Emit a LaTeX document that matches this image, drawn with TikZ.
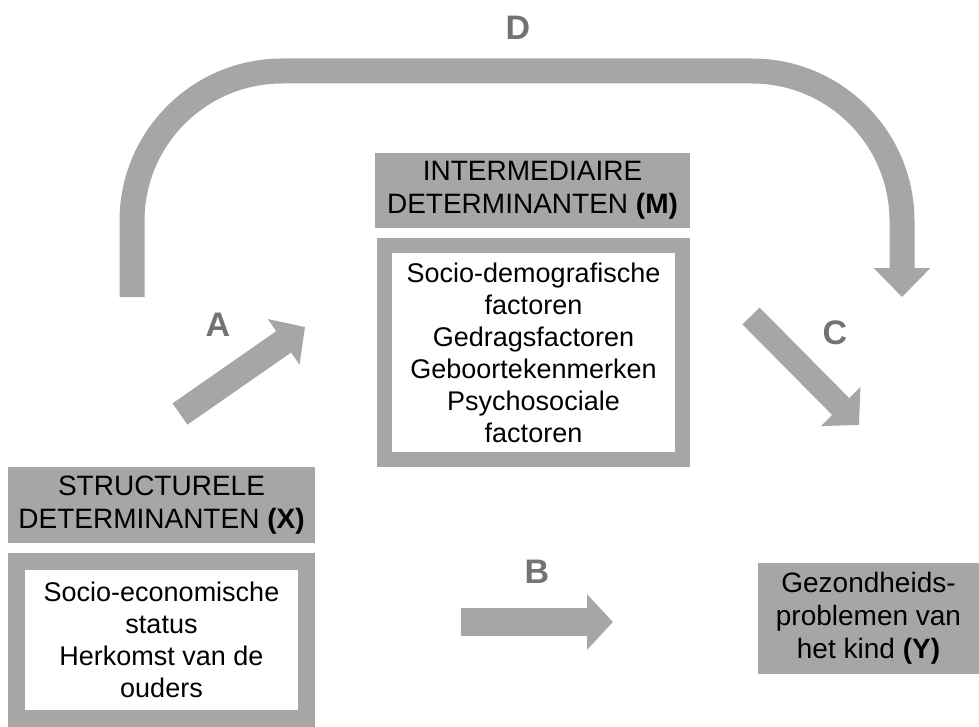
\documentclass[tikz,border=0pt]{standalone}
\usepackage{fontspec}
\setmainfont{Liberation Sans}
\usetikzlibrary{arrows.meta}
\definecolor{boxgray}{HTML}{A6A6A6}
\definecolor{lblgray}{HTML}{737373}

\begin{document}
\begin{tikzpicture}[x=1pt, y=-1pt,
  every node/.style={font=\fontsize{27}{32}\selectfont, align=center, inner sep=0pt},
  hdr/.style={fill=boxgray, font=\fontsize{28}{33}\selectfont},
  body/.style={draw=boxgray, fill=white},
  pathlbl/.style={text=lblgray, font=\fontsize{34}{34}\selectfont\bfseries},
  blockarrow/.style={draw=boxgray, line width=26pt, -{Triangle[width=54pt, length=26pt]}}]
  \useasboundingbox (0,0) rectangle (979,727);

  % Path D (over the top)
  \coordinate (dStart) at (132,297);
  \coordinate (dUp) at (132,71);
  \coordinate (dOver) at (902,71);
  \coordinate (dEnd) at (902,297);
  \draw[blockarrow, line width=25pt, rounded corners=150pt,
        -{Triangle[width=55pt, length=29pt]}] (dStart) -- (dUp) -- (dOver) -- (dEnd);
  \node[pathlbl] (lblD) at (518,28) {D};

  % Intermediaire determinanten (M)
  \node[hdr, minimum width=315pt, minimum height=75pt] (hdrM) at (532.5,190.5)
    {INTERMEDIAIRE\\DETERMINANTEN \textbf{(M)}};
  \node[body, line width=15pt, minimum width=298pt, minimum height=214pt] (bodyM) at (533.5,352.5)
    {Socio-demografische\\factoren\\Gedragsfactoren\\Geboortekenmerken\\Psychosociale\\factoren};

  % Structurele determinanten (X)
  \node[hdr, minimum width=307pt, minimum height=76pt] (hdrX) at (161.5,505)
    {STRUCTURELE\\DETERMINANTEN \textbf{(X)}};
  \node[body, line width=17pt, minimum width=290pt, minimum height=157pt] (bodyX) at (161.5,640)
    {Socio-economische\\status\\Herkomst van de\\ouders};

  % Gezondheidsproblemen (Y)
  \node[hdr, minimum width=221pt, minimum height=111pt] (hdrY) at (868.5,618)
    {Gezondheids-\\problemen van\\het kind \textbf{(Y)}};

  % Path A
  \coordinate (aStart) at (180,414);
  \coordinate (aEnd) at (305,327);
  \draw[blockarrow] (aStart) -- (aEnd);
  \node[pathlbl] (lblA) at (218,325) {A};

  % Path B
  \coordinate (bStart) at (461,622);
  \coordinate (bEnd) at (613,622);
  \draw[blockarrow, line width=28pt] (bStart) -- (bEnd);
  \node[pathlbl] (lblB) at (537,572) {B};

  % Path C
  \coordinate (cStart) at (751,316);
  \coordinate (cEnd) at (859,425);
  \draw[blockarrow, line width=24pt] (cStart) -- (cEnd);
  \node[pathlbl] (lblC) at (835,333) {C};
\end{tikzpicture}
\end{document}
